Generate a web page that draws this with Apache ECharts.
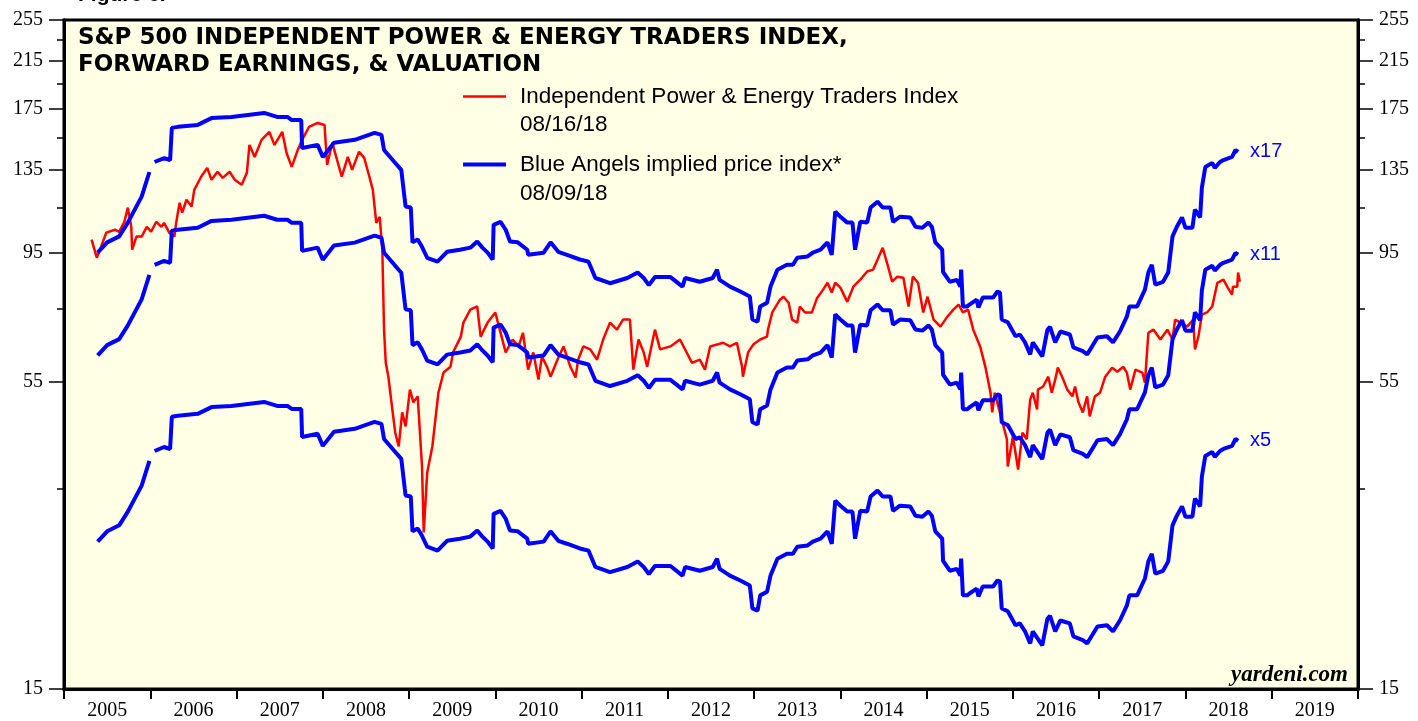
<!DOCTYPE html>
<html>
<head>
<meta charset="utf-8">
<title>S&amp;P 500 Independent Power &amp; Energy Traders Index</title>
<script src="https://cdn.jsdelivr.net/npm/echarts@6/dist/echarts.min.js"></script>
<style>
	html, body { margin: 0; padding: 0; background: #fff; }
	#chart { width: 1418px; height: 721px; }
</style>
</head>
<body>
<div id="chart"></div>
<script>
// Axis ticks and labels
const years = [2005, 2006, 2007, 2008, 2009, 2010, 2011, 2012, 2013, 2014, 2015, 2016, 2017, 2018, 2019];
const yearTicks = [2005, 2006, 2007, 2008, 2009, 2010, 2011, 2012, 2013, 2014, 2015, 2016, 2017, 2018, 2019, 2020];
const yLabels = [15, 55, 95, 135, 175, 215, 255];
const yMinorTicks = [35, 75, 115, 155, 195, 235];

// Forward earnings (decimal year), drawn at 17x, 11x and 5x
const multiples = [17, 11, 5];
const blueDates = [
	2005.39, 2005.50, 2005.64, 2005.74, 2005.90, 2005.99, 2006.02, 2006.05, 2006.16, 2006.23,
	2006.25, 2006.32, 2006.55, 2006.71, 2006.94, 2007.32, 2007.47, 2007.59, 2007.64, 2007.75,
	2007.76, 2007.94, 2008.00, 2008.13, 2008.37, 2008.60, 2008.68, 2008.71, 2008.83, 2008.91,
	2008.95, 2008.96, 2009.02, 2009.04, 2009.10, 2009.15, 2009.21, 2009.33, 2009.44, 2009.59,
	2009.71, 2009.79, 2009.85, 2009.91, 2009.97, 2009.98, 2010.06, 2010.12, 2010.17, 2010.26,
	2010.37, 2010.38, 2010.56, 2010.64, 2010.73, 2010.83, 2010.98, 2011.08, 2011.16, 2011.33,
	2011.53, 2011.65, 2011.72, 2011.78, 2011.85, 2012.03, 2012.17, 2012.20, 2012.37, 2012.52,
	2012.57, 2012.60, 2012.72, 2012.84, 2012.95, 2012.98, 2013.04, 2013.07, 2013.15, 2013.19,
	2013.27, 2013.38, 2013.45, 2013.50, 2013.62, 2013.68, 2013.77, 2013.85, 2013.90, 2013.94,
	2014.00, 2014.08, 2014.14, 2014.17, 2014.23, 2014.31, 2014.35, 2014.43, 2014.49, 2014.58,
	2014.61, 2014.69, 2014.81, 2014.87, 2014.95, 2015.02, 2015.06, 2015.10, 2015.18, 2015.19,
	2015.27, 2015.35, 2015.39, 2015.40, 2015.42, 2015.47, 2015.50, 2015.58, 2015.60, 2015.65,
	2015.77, 2015.82, 2015.85, 2015.87, 2015.94, 2016.03, 2016.08, 2016.14, 2016.20, 2016.23,
	2016.34, 2016.40, 2016.43, 2016.49, 2016.55, 2016.66, 2016.70, 2016.81, 2016.86, 2016.92,
	2016.98, 2017.09, 2017.16, 2017.24, 2017.32, 2017.35, 2017.44, 2017.53, 2017.57, 2017.61,
	2017.65, 2017.74, 2017.80, 2017.85, 2017.90, 2017.96, 2018.00, 2018.08, 2018.11, 2018.17,
	2018.19, 2018.23, 2018.31, 2018.34, 2018.40, 2018.44, 2018.54, 2018.58, 2018.61
];
const fwdEarnings = [
	5.60, 5.85, 6.00, 6.36, 7.10, 7.88, null, 8.22, 8.36, 8.29,
	9.50, 9.54, 9.62, 9.90, 9.95, 10.12, 9.95, 9.95, 9.82, 9.82,
	8.72, 8.84, 8.40, 8.92, 9.03, 9.30, 9.22, 8.65, 8.22, 7.95,
	7.01, 6.81, 6.78, 5.85, 5.92, 5.74, 5.48, 5.39, 5.62, 5.67,
	5.72, 5.87, 5.72, 5.60, 5.44, 6.30, 6.38, 6.17, 5.87, 5.85,
	5.67, 5.55, 5.60, 5.85, 5.62, 5.55, 5.44, 5.39, 5.03, 4.92,
	5.03, 5.15, 5.03, 4.88, 5.05, 5.05, 4.85, 5.03, 4.95, 5.03,
	5.21, 4.99, 4.85, 4.75, 4.65, 4.22, 4.18, 4.46, 4.53, 4.85,
	5.21, 5.32, 5.32, 5.48, 5.51, 5.60, 5.67, 5.85, 5.55, 6.66,
	6.52, 6.36, 6.36, 5.67, 6.38, 6.36, 6.78, 6.95, 6.78, 6.78,
	6.38, 6.52, 6.50, 6.25, 6.22, 6.36, 6.25, 5.85, 5.67, 5.16,
	4.95, 4.99, 4.85, 5.21, 4.46, 4.46, 4.50, 4.59, 4.44, 4.63,
	4.63, 4.75, 4.73, 4.22, 4.17, 3.93, 3.96, 3.83, 3.64, 3.83,
	3.61, 4.04, 4.09, 3.83, 4.01, 3.96, 3.75, 3.69, 3.64, 3.77,
	3.91, 3.93, 3.83, 4.01, 4.27, 4.46, 4.46, 4.79, 5.15, 5.32,
	4.89, 4.95, 5.15, 6.00, 6.25, 6.50, 6.22, 6.22, 6.72, 6.50,
	7.37, 8.05, 8.19, 8.02, 8.22, 8.29, 8.40, 8.65, 8.58
];

// Independent Power & Energy Traders Index (decimal year)
const indexDates = [
	2005.32, 2005.38, 2005.43, 2005.49, 2005.59, 2005.64, 2005.70, 2005.74, 2005.78, 2005.79,
	2005.84, 2005.90, 2005.96, 2006.01, 2006.07, 2006.13, 2006.16, 2006.22, 2006.28, 2006.30,
	2006.34, 2006.37, 2006.42, 2006.48, 2006.51, 2006.59, 2006.66, 2006.71, 2006.78, 2006.84,
	2006.92, 2006.98, 2007.06, 2007.12, 2007.15, 2007.21, 2007.29, 2007.38, 2007.44, 2007.53,
	2007.58, 2007.64, 2007.71, 2007.76, 2007.84, 2007.94, 2008.02, 2008.05, 2008.11, 2008.22,
	2008.29, 2008.34, 2008.42, 2008.48, 2008.54, 2008.58, 2008.62, 2008.66, 2008.69, 2008.71,
	2008.73, 2008.76, 2008.81, 2008.84, 2008.88, 2008.92, 2008.96, 2009.01, 2009.05, 2009.10,
	2009.15, 2009.17, 2009.21, 2009.27, 2009.34, 2009.40, 2009.48, 2009.51, 2009.60, 2009.63,
	2009.71, 2009.79, 2009.83, 2009.91, 2010.00, 2010.03, 2010.12, 2010.20, 2010.27, 2010.32,
	2010.38, 2010.44, 2010.50, 2010.54, 2010.60, 2010.64, 2010.72, 2010.79, 2010.87, 2010.93,
	2010.96, 2011.02, 2011.10, 2011.18, 2011.25, 2011.33, 2011.41, 2011.48, 2011.56, 2011.60,
	2011.66, 2011.72, 2011.76, 2011.85, 2011.91, 2012.03, 2012.14, 2012.28, 2012.37, 2012.43,
	2012.49, 2012.57, 2012.64, 2012.72, 2012.80, 2012.86, 2012.87, 2012.93, 2012.99, 2013.07,
	2013.15, 2013.16, 2013.21, 2013.30, 2013.34, 2013.40, 2013.44, 2013.50, 2013.53, 2013.59,
	2013.67, 2013.73, 2013.80, 2013.85, 2013.90, 2013.94, 2014.00, 2014.08, 2014.15, 2014.23,
	2014.31, 2014.38, 2014.43, 2014.49, 2014.54, 2014.60, 2014.66, 2014.73, 2014.79, 2014.84,
	2014.90, 2014.96, 2015.01, 2015.08, 2015.16, 2015.24, 2015.31, 2015.37, 2015.42, 2015.48,
	2015.54, 2015.62, 2015.68, 2015.74, 2015.76, 2015.79, 2015.87, 2015.93, 2015.94, 2016.00,
	2016.06, 2016.11, 2016.16, 2016.20, 2016.23, 2016.28, 2016.29, 2016.35, 2016.41, 2016.45,
	2016.49, 2016.52, 2016.57, 2016.63, 2016.69, 2016.72, 2016.76, 2016.81, 2016.86, 2016.89,
	2016.95, 2017.01, 2017.07, 2017.15, 2017.21, 2017.28, 2017.32, 2017.36, 2017.42, 2017.50,
	2017.53, 2017.57, 2017.63, 2017.71, 2017.79, 2017.85, 2017.88, 2017.94, 2018.02, 2018.09,
	2018.11, 2018.15, 2018.19, 2018.25, 2018.31, 2018.37, 2018.44, 2018.49, 2018.54, 2018.55,
	2018.60, 2018.61, 2018.63
];
const indexValues = [
	100.6, 93.2, 97.6, 103.6, 104.9, 104.0, 108.5, 115.2, 106.2, 96.4,
	101.9, 101.9, 106.2, 104.0, 108.5, 106.2, 108.0, 103.6, 101.9, 108.0,
	117.6, 112.8, 119.1, 115.7, 124.2, 131.3, 136.3, 129.6, 134.1, 130.7,
	134.1, 129.6, 126.9, 133.6, 150.2, 142.8, 153.5, 158.8, 150.2, 158.8,
	145.2, 136.9, 147.1, 153.5, 162.1, 164.9, 163.5, 138.0, 151.6, 131.3,
	142.8, 135.2, 146.0, 142.2, 131.3, 124.2, 108.0, 110.8, 96.4, 68.7,
	59.7, 56.3, 48.4, 44.4, 41.9, 48.4, 45.6, 53.3, 50.5, 51.8,
	38.5, 29.1, 37.5, 41.9, 52.6, 57.3, 58.7, 62.4, 66.7, 70.8,
	74.8, 75.8, 66.7, 70.8, 73.9, 70.8, 62.4, 65.9, 64.0, 67.8,
	58.0, 62.4, 55.6, 61.3, 58.7, 56.3, 60.5, 64.0, 58.7, 56.1,
	60.5, 64.0, 63.2, 60.5, 65.9, 70.8, 68.7, 71.7, 71.7, 58.0,
	65.9, 62.4, 58.7, 68.7, 63.2, 64.0, 65.9, 59.7, 60.5, 58.0,
	64.0, 64.5, 65.0, 64.0, 65.0, 58.7, 56.3, 62.4, 64.5, 65.9,
	66.7, 68.7, 73.9, 78.0, 79.0, 77.0, 71.7, 70.8, 75.8, 73.9,
	73.9, 78.6, 81.4, 83.8, 80.4, 83.8, 82.1, 77.3, 82.4, 84.9,
	87.9, 88.6, 92.4, 97.2, 91.2, 84.2, 86.0, 85.6, 75.8, 86.0,
	83.8, 73.9, 79.0, 71.7, 69.6, 72.6, 74.8, 76.4, 73.9, 74.8,
	68.7, 64.0, 58.7, 52.6, 48.4, 52.6, 47.0, 43.2, 38.5, 43.7,
	38.0, 44.4, 43.2, 51.1, 52.6, 49.0, 53.3, 54.0, 56.3, 52.6,
	55.6, 58.5, 56.3, 53.3, 51.8, 54.0, 50.5, 48.4, 51.8, 47.6,
	51.8, 52.6, 56.3, 58.5, 57.5, 58.7, 57.3, 53.3, 58.0, 57.3,
	54.9, 67.8, 68.7, 65.9, 68.7, 65.9, 71.7, 70.8, 69.6, 71.7,
	63.2, 66.7, 73.2, 73.9, 75.8, 83.8, 84.9, 82.1, 79.7, 82.4,
	82.4, 87.5, 84.2
];

const indexName = "Independent Power & Energy Traders Index";
const blueName = "Blue Angels implied price index*";
const sans = "Liberation Sans";
const serif = "Liberation Serif";
const BLUE = "#0000FF";
const RED = "#FF0000";

const chart = echarts.init(document.getElementById("chart"), null, { renderer: "canvas" });

// y axes: one with the labelled ticks, one with the short in-between ticks, on each side
function yAxisDef(position, labelled) {
	return {
		type: "log",
		logBase: 10,
		min: 15,
		max: 255,
		position: position,
		axisLine: { show: true, lineStyle: { color: "#000", width: 3 } },
		axisTick: {
			show: true,
			length: labelled ? 15 : 7,
			customValues: labelled ? yLabels : yMinorTicks,
			lineStyle: { color: "#000", width: 1.5 },
		},
		axisLabel: {
			show: labelled,
			customValues: yLabels,
			margin: 21,
			fontFamily: serif,
			fontSize: 20,
			color: "#000",
		},
		splitLine: { show: false },
	};
}

const blueSeries = multiples.map((m) => ({
	name: blueName,
	type: "line",
	symbol: "none",
	showSymbol: false,
	data: blueDates.map((d, i) => [d, fwdEarnings[i] == null ? "-" : +(fwdEarnings[i] * m).toFixed(2)]),
	lineStyle: { color: BLUE, width: 4 },
	itemStyle: { color: BLUE },
	endLabel: {
		show: true,
		formatter: "x" + m,
		color: BLUE,
		fontFamily: sans,
		fontSize: 20,
		distance: 12,
	},
	z: 3,
}));

const legendText = { fontFamily: sans, fontSize: 22.5, color: "#000", padding: [0, 0, 0, 9] };

chart.setOption({
	animation: false,
	backgroundColor: "#ffffff",
	title: {
		text: "S&P 500 INDEPENDENT POWER & ENERGY TRADERS INDEX,\nFORWARD EARNINGS, & VALUATION",
		left: 78,
		top: 25,
		padding: 0,
		textStyle: {
			fontFamily: "DejaVu Sans",
			fontWeight: "bold",
			fontSize: 23,
			lineHeight: 27,
			color: "#000",
		},
	},
	legend: [
		{
			data: [{ name: indexName, icon: "rect" }],
			left: 463,
			top: 85,
			padding: 0,
			itemWidth: 43,
			itemHeight: 2.5,
			selectedMode: false,
			textStyle: legendText,
		},
		{
			data: [{ name: blueName, icon: "rect" }],
			left: 463,
			top: 153,
			padding: 0,
			itemWidth: 43,
			itemHeight: 4,
			selectedMode: false,
			textStyle: legendText,
		},
	],
	grid: {
		left: 64,
		right: 60,
		top: 20,
		bottom: 31,
		show: true,
		backgroundColor: "#FFFFE6",
		borderColor: "#000",
		borderWidth: 3,
	},
	xAxis: {
		type: "value",
		min: 2005,
		max: 2020,
		interval: 1,
		axisLine: { show: true, lineStyle: { color: "#000", width: 3 } },
		axisTick: {
			show: true,
			length: 10,
			customValues: yearTicks,
			lineStyle: { color: "#000", width: 2 },
		},
		axisLabel: {
			customValues: years.map((y) => y + 0.5),
			formatter: (v) => String(Math.floor(v)),
			margin: 12,
			fontFamily: serif,
			fontSize: 20,
			color: "#000",
		},
		splitLine: { show: false },
	},
	yAxis: [
		yAxisDef("left", true),
		yAxisDef("left", false),
		yAxisDef("right", true),
		yAxisDef("right", false),
	],
	graphic: [
		{
			type: "text",
			left: 78,
			top: -15,
			style: { text: "Figure 6.", font: "bold 21px 'Liberation Sans'", fill: "#000" },
		},
		{
			type: "text",
			left: 520,
			top: 113,
			style: { text: "08/16/18", font: "22.5px 'Liberation Sans'", fill: "#000" },
		},
		{
			type: "text",
			left: 520,
			top: 182,
			style: { text: "08/09/18", font: "22.5px 'Liberation Sans'", fill: "#000" },
		},
		{
			type: "text",
			right: 70,
			top: 664,
			style: { text: "yardeni.com", font: "italic bold 23px 'Liberation Serif'", fill: "#000" },
			z: 10,
		},
	],
	series: [
		{
			name: indexName,
			type: "line",
			symbol: "none",
			showSymbol: false,
			data: indexDates.map((d, i) => [d, indexValues[i]]),
			lineStyle: { color: RED, width: 2.5 },
			itemStyle: { color: RED },
			z: 2,
		},
	].concat(blueSeries),
});
</script>
</body>
</html>
